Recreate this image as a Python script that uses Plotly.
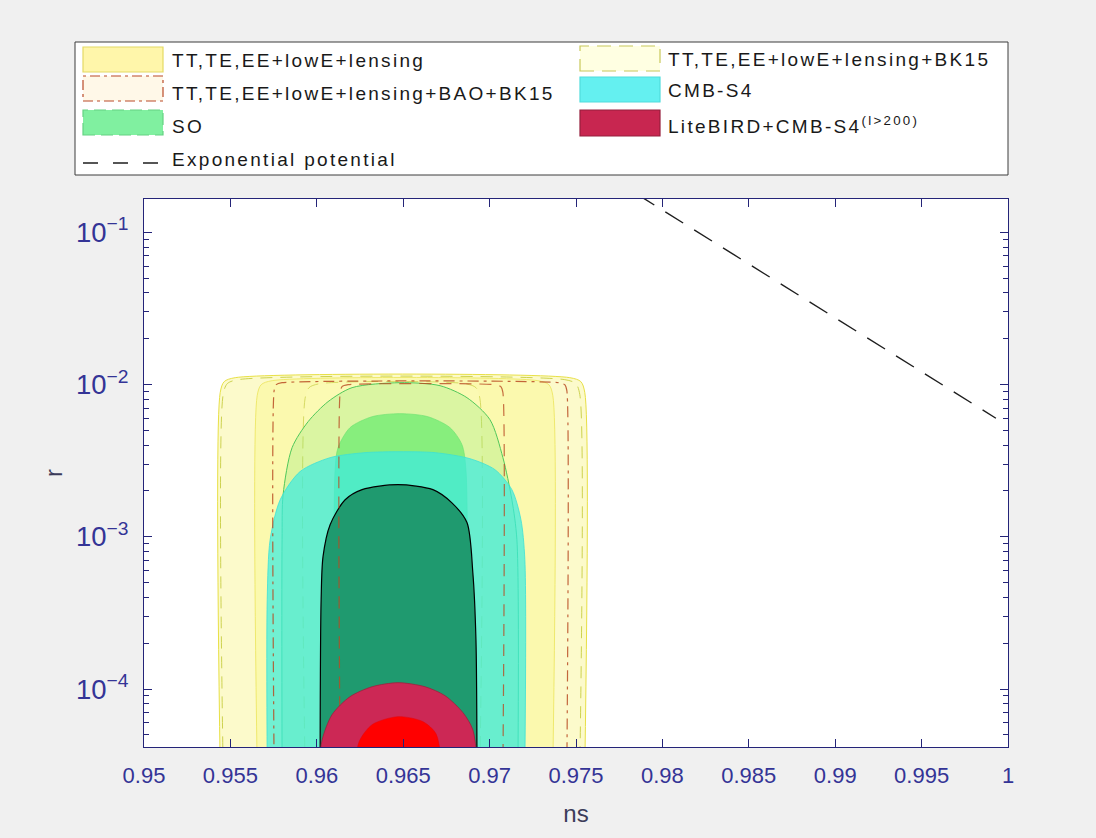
import plotly.graph_objects as go

# ---------------- data (ns, r) ----------------
planck_2s_ns = [0.95441, 0.95441, 0.95464, 0.95528, 0.97464, 0.97528, 0.97551, 0.97551]
planck_2s_r = [3e-5, 0.00885, 0.01045, 0.01110, 0.01110, 0.01045, 0.00885, 3e-5]
planck_1s_ns = [0.95655, 0.95655, 0.95678, 0.95742, 0.97279, 0.97343, 0.97366, 0.97366]
planck_1s_r = [3e-5, 0.00845, 0.00998, 0.01061, 0.01061, 0.00998, 0.00845, 3e-5]

bk15_2s_ns = [0.95458, 0.95458, 0.95482, 0.95545, 0.97435, 0.97499, 0.97522, 0.97522]
bk15_2s_r = [3e-5, 0.00859, 0.01014, 0.01077, 0.01077, 0.01014, 0.00859, 3e-5]
bk15_1s_ns = [0.95932, 0.95932, 0.95955, 0.96019, 0.96857, 0.96921, 0.96944, 0.96944]
bk15_1s_r = [3e-5, 0.00808, 0.00954, 0.01014, 0.01014, 0.00954, 0.00808, 3e-5]

bao_2s_ns = [0.95753, 0.95753, 0.95765, 0.95799, 0.97401, 0.97435, 0.97447, 0.97447]
bao_2s_r = [3e-5, 0.00912, 0.00998, 0.01029, 0.01029, 0.00998, 0.00912, 3e-5]
bao_1s_ns = [0.96135, 0.96135, 0.96146, 0.96181, 0.97031, 0.97065, 0.97077, 0.97077]
bao_1s_r = [3e-5, 0.00885, 0.00969, 0.00998, 0.00998, 0.00969, 0.00885, 3e-5]

so_2s_ns = [0.95799, 0.95799, 0.95805, 0.95857, 0.95950, 0.96065, 0.96204, 0.96481,
            0.96713, 0.96869, 0.97002, 0.97077, 0.97129, 0.97158, 0.97164]
so_2s_r = [3e-5, 0.000957, 0.00189, 0.00385, 0.00571, 0.00772, 0.00954, 0.01029,
           0.00983, 0.00820, 0.00588, 0.00331, 0.00175, 0.000957, 3e-5]
so_1s_ns = [0.96106, 0.96106, 0.96123, 0.96192, 0.96320, 0.96481, 0.96643, 0.96771,
            0.96840, 0.96863, 0.96863]
so_1s_r = [3e-5, 0.00276, 0.00385, 0.00521, 0.00615, 0.00644, 0.00615, 0.00521,
           0.00403, 0.00276, 3e-5]

s4_2s_ns = [0.95713, 0.95713, 0.95730, 0.95788, 0.95903, 0.96077, 0.96279, 0.96481,
            0.96684, 0.96886, 0.97031, 0.97129, 0.97181, 0.97204, 0.97204]
s4_2s_r = [3e-5, 0.000386, 0.000957, 0.00175, 0.00268, 0.00331, 0.00357, 0.00362,
           0.00357, 0.00326, 0.00276, 0.00204, 0.00130, 0.000707, 3e-5]
s4_1s_ns = [0.96019, 0.96025, 0.96036, 0.96077, 0.96164, 0.96262, 0.96470, 0.96672,
            0.96782, 0.96869, 0.96903, 0.96921, 0.96927]
s4_1s_r = [3e-5, 0.000386, 0.000740, 0.00120, 0.00175, 0.00204, 0.00220, 0.00204,
           0.00167, 0.00124, 0.000581, 0.000211, 3e-5]

lb_2s_ns = [0.96013, 0.96031, 0.96088, 0.96192, 0.96320, 0.96470, 0.96626, 0.96742,
            0.96846, 0.96903, 0.96932]
lb_2s_r = [3e-5, 4.64e-5, 6.78e-5, 8.90e-5, 1.035e-4, 1.100e-4, 1.035e-4, 9.04e-5,
           6.99e-5, 5.40e-5, 3e-5]
lb_1s_ns = [0.96221, 0.96245, 0.96320, 0.96470, 0.96615, 0.96690, 0.96724]
lb_1s_r = [3e-5, 4.51e-5, 5.83e-5, 6.58e-5, 6.10e-5, 5.08e-5, 3e-5]

exp_ns = [0.9785, 0.9993]
exp_r = [0.179, 0.00601]

x_tick_vals = [0.95, 0.955, 0.96, 0.965, 0.97, 0.975, 0.98, 0.985, 0.99, 0.995, 1.0]
x_tick_text = ["0.95", "0.955", "0.96", "0.965", "0.97", "0.975", "0.98", "0.985",
               "0.99", "0.995", "1"]

legend_labels = ["TT,TE,EE+lowE+lensing", "TT,TE,EE+lowE+lensing+BK15",
                 "TT,TE,EE+lowE+lensing+BAO+BK15", "CMB-S4", "SO",
                 "LiteBIRD+CMB-S4<sup>(l&gt;200)</sup>", "Exponential potential"]

# ---------------- styling ----------------
NAVY = "rgb(36,36,120)"
TICKCOL = "rgb(52,52,150)"
FONT = "Liberation Sans, Arial, sans-serif"
W, H = 1096, 838
ML, MR, MT, MB = 144, 88, 199, 91
PL, PR, PT, PB = ML, W - MR, MT, H - MB


def px(x):
    return (x - PL) / (PR - PL)


def py(y):
    return (PB - y) / (PB - PT)


fig = go.Figure()


def region(ns, r, fill, line_color, dash="solid", width=1.0, smoothing=0.8, filled=True):
    fig.add_trace(go.Scatter(
        x=ns, y=r, mode="lines",
        fill="toself" if filled else "none",
        fillcolor=fill,
        line=dict(color=line_color, width=width, dash=dash, shape="spline", smoothing=smoothing),
        showlegend=False, hoverinfo="skip"))


# Planck TT,TE,EE+lowE+lensing
region(planck_2s_ns, planck_2s_r, "rgba(250,246,160,0.55)", "rgb(232,224,70)")
region(planck_1s_ns, planck_1s_r, "rgba(250,245,120,0.42)", "rgba(232,224,70,0.8)")
# + BK15
region(bk15_2s_ns, bk15_2s_r, "rgba(255,255,210,0.15)", "rgb(205,210,80)", dash="12px,8px")
region(bk15_1s_ns, bk15_1s_r, "rgba(255,255,210,0.15)", "rgba(205,210,80,0.8)", dash="12px,8px")
# SO
region(so_2s_ns, so_2s_r, "rgba(120,230,110,0.25)", "rgb(80,200,90)")
region(so_1s_ns, so_1s_r, "rgba(100,235,110,0.7)", "rgba(100,225,110,0.6)")
# CMB-S4
region(s4_2s_ns, s4_2s_r, "rgba(60,235,225,0.72)", "rgba(60,225,215,0.8)")
region(s4_1s_ns, s4_1s_r, "rgb(31,154,111)", "black", width=1.2)
# + BAO + BK15 (outlines)
region(bao_2s_ns, bao_2s_r, None, "rgba(185,75,35,0.85)", dash="11px,5px,3px,5px",
       width=1.2, smoothing=0.6, filled=False)
region(bao_1s_ns, bao_1s_r, None, "rgba(185,75,35,0.8)", dash="12px,8px",
       width=1.2, smoothing=0.6, filled=False)
# LiteBIRD + CMB-S4
region(lb_2s_ns, lb_2s_r, "rgb(204,40,85)", "rgb(160,30,60)", width=0.8)
region(lb_1s_ns, lb_1s_r, "rgb(255,0,0)", "rgb(235,0,0)", width=0.5)

# exponential potential
fig.add_trace(go.Scatter(x=exp_ns, y=exp_r, mode="lines",
                         line=dict(color="rgb(30,30,30)", width=1.4, dash="21px,13px"),
                         showlegend=False, hoverinfo="skip"))

fig.update_layout(
    width=W, height=H, margin=dict(l=ML, r=MR, t=MT, b=MB, pad=0),
    paper_bgcolor="#F0F0F0", plot_bgcolor="white", showlegend=False,
    font=dict(family=FONT),
)

fig.update_xaxes(
    range=[0.95, 1.0], tickmode="array", tickvals=x_tick_vals, ticktext=x_tick_text,
    ticks="inside", ticklen=8, tickwidth=1.2, tickcolor=NAVY,
    showline=True, linecolor=NAVY, linewidth=1.2, mirror="ticks",
    showgrid=False, zeroline=False, ticklabelstandoff=8,
    tickfont=dict(family=FONT, size=22, color=TICKCOL),
    title=dict(text="ns", font=dict(family=FONT, size=24, color="rgb(60,60,90)"), standoff=18),
)
fig.update_yaxes(
    type="log", range=[-4.381, -0.781], tickmode="linear", tick0=0, dtick=1,
    exponentformat="power", showexponent="all",
    ticks="inside", ticklen=8, tickwidth=1.2, tickcolor=NAVY,
    showline=True, linecolor=NAVY, linewidth=1.2, mirror="ticks",
    showgrid=False, zeroline=False, ticklabelstandoff=10,
    tickfont=dict(family=FONT, size=22, color=TICKCOL),
    minor=dict(dtick="D1", ticks="inside", ticklen=5, tickwidth=1, tickcolor=NAVY,
               showgrid=False),
    title=dict(text="r", font=dict(family=FONT, size=24, color="rgb(60,60,90)"), standoff=6),
)

# ---------------- legend box (drawn) ----------------
shapes = []
annots = []
shapes.append(dict(type="rect", xref="paper", yref="paper", x0=px(75), x1=px(1008),
                   y0=py(175), y1=py(42), fillcolor="white",
                   line=dict(color="rgb(60,60,60)", width=1), layer="above"))

patches = [
    # (x0, y0, x1, y1, fill, line, dash, label, text x, text y)
    (83, 47, 163, 72, "rgb(255,246,170)", "rgb(228,218,100)", "solid", legend_labels[0], 170, 60),
    (580, 46, 660, 71, "rgb(255,255,226)", "rgb(200,200,90)", "14px,8px", legend_labels[1], 666, 59),
    (83, 76, 163, 101, "rgb(255,248,232)", "rgb(185,75,40)", "10px,4px,3px,4px", legend_labels[2], 170, 93),
    (580, 77, 660, 102, "rgb(100,240,240)", "rgb(80,220,220)", "solid", legend_labels[3], 666, 91),
    (83, 110, 163, 135, "rgb(128,240,160)", "rgb(100,210,130)", "12px,6px", legend_labels[4], 170, 126),
    (580, 110, 660, 136, "rgb(200,38,80)", "rgb(150,30,60)", "solid", legend_labels[5], 666, 125),
]
LEGFONT = dict(family=FONT, size=19, color="rgb(25,25,25)")


def spaced(t):
    return '<span style="letter-spacing:2.3px">' + t + '</span>'


for x0, y0, x1, y1, fc, lc, dsh, lab, tx, ty in patches:
    shapes.append(dict(type="rect", xref="paper", yref="paper", x0=px(x0), x1=px(x1),
                       y0=py(y1), y1=py(y0), fillcolor=fc,
                       line=dict(color=lc, width=1.2, dash=dsh), layer="above"))
    annots.append(dict(xref="paper", yref="paper", x=px(tx), y=py(ty), xanchor="left",
                       yanchor="middle", showarrow=False, text=spaced(lab), font=LEGFONT))
shapes.append(dict(type="line", xref="paper", yref="paper", x0=px(83), x1=px(163),
                   y0=py(163), y1=py(163),
                   line=dict(color="rgb(30,30,30)", width=1.4, dash="15px,15px"), layer="above"))
annots.append(dict(xref="paper", yref="paper", x=px(170), y=py(159), xanchor="left",
                   yanchor="middle", showarrow=False, text=spaced(legend_labels[6]),
                   font=LEGFONT))

fig.update_layout(shapes=shapes, annotations=annots)

fig.write_html("out.html")
